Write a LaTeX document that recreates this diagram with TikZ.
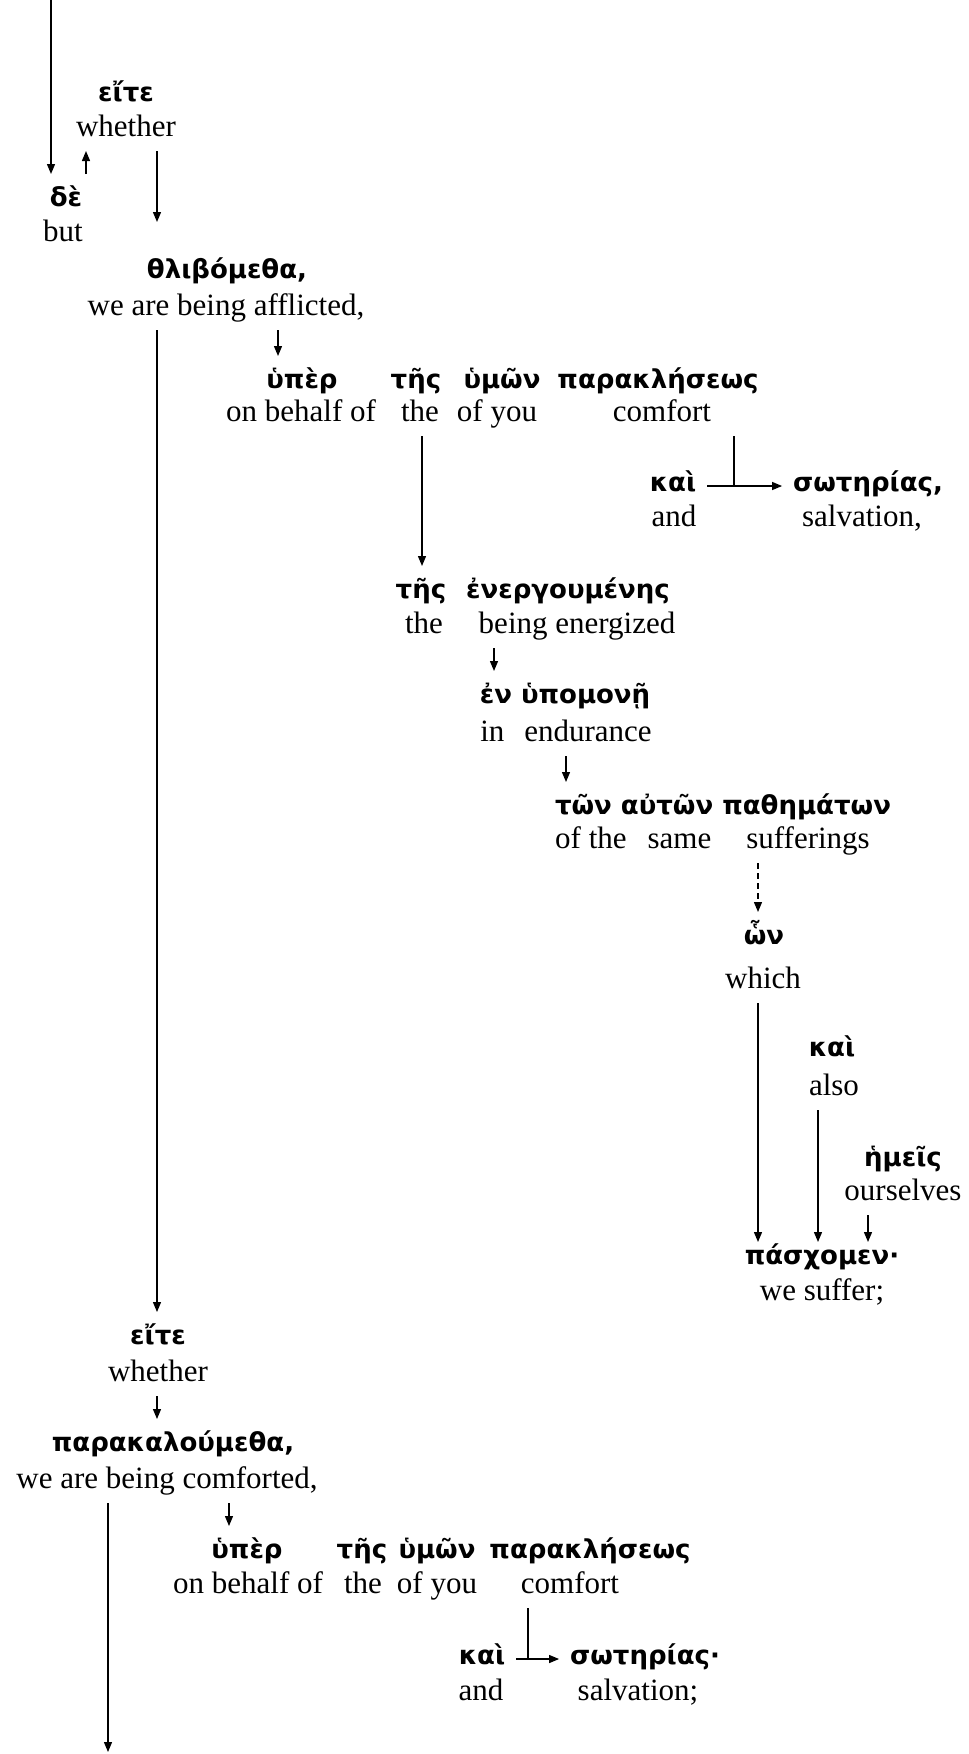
\documentclass[tikz,border=0pt]{standalone}
\usepackage{fontspec}
\setmainfont{Liberation Serif}
\newfontfamily\gkfont{DejaVu Sans}[Script=Greek]
\usetikzlibrary{arrows.meta}

\begin{document}
\begin{tikzpicture}[x=1pt,y=-1pt,
  gk/.style={font=\gkfont\bfseries\fontsize{26}{30}\selectfont,anchor=base,inner sep=0pt,
    text height=16pt,text depth=6pt,outer xsep=11pt,outer ysep=16pt},
  en/.style={font=\fontsize{31}{36}\selectfont,anchor=base,inner sep=0pt,
    text height=21pt,text depth=7pt,outer ysep=8pt},
  ln/.style={line width=1.3pt},
  arr/.style={ln,-{Triangle[length=10pt,width=8pt]}}]
  \useasboundingbox (0,0) rectangle (969,1754);
  % first clause
  \node[gk] (eiteA) at (126,101) {εἴτε};
  \node[en] (whetherA) at (126,136) {whether};
  \node[gk] (de) at (66,206) {δὲ};
  \node[en] (but) at (63,241) {but};
  \node[gk] (thlib) at (227,278) {θλιβόμεθα,};
  \node[en] (afflicted) at (226,315) {we are being afflicted,};
  \node[gk] (hyperA) at (302,388) {ὑπὲρ};
  \node[en] (behalfA) at (301,421) {on behalf of};
  \node[gk] (tesA) at (416,388) {τῆς};
  \node[en] (theA) at (420,421) {the};
  \node[gk] (hymonA) at (502,388) {ὑμῶν};
  \node[en] (ofyouA) at (497,421) {of you};
  \node[gk] (paraklA) at (658,388) {παρακλήσεως};
  \node[en] (comfortA) at (662,421) {comfort};
  \node[gk] (kaiA) at (673,491) {καὶ};
  \node[en] (andA) at (674,526) {and};
  \node[gk] (soteriasA) at (868,491) {σωτηρίας,};
  \node[en] (salvationA) at (862,526) {salvation,};
  \node[gk] (tesB) at (421,598) {τῆς};
  \node[en] (theB) at (424,633) {the};
  \node[gk] (energ) at (568,598) {ἐνεργουμένης};
  \node[en] (energized) at (577,633) {being energized};
  \node[gk] (hypomone) at (565,703) {ἐν ὑπομονῇ};
  \node[en] (endurance) at (566,741) {in\hspace{20pt}endurance};
  \node[gk,anchor=base west] (pathem) at (544,814) {τῶν αὐτῶν παθημάτων};
  \node[en,anchor=base west] (sufferings) at (555,848) {of the\hspace{21pt}same\hspace{35pt}sufferings};
  \node[gk] (hon) at (764,944) {ὧν};
  \node[en] (which) at (763,988) {which};
  \node[gk] (kaiC) at (832,1056) {καὶ};
  \node[en] (also) at (834,1095) {also};
  \node[gk] (hemeis) at (903,1166) {ἡμεῖς};
  \node[en] (ourselves) at (903,1200) {ourselves};
  \node[gk] (pasch) at (822,1264) {πάσχομεν·};
  \node[en] (suffer) at (822,1300) {we suffer;};
  % second clause
  \node[gk] (eiteB) at (158,1344) {εἴτε};
  \node[en] (whetherB) at (158,1381) {whether};
  \node[gk] (parakal) at (173,1451) {παρακαλούμεθα,};
  \node[en] (comforted) at (167,1488) {we are being comforted,};
  \node[gk] (hyperB) at (247,1558) {ὑπὲρ};
  \node[en] (behalfB) at (248,1593) {on behalf of};
  \node[gk] (tesC) at (362,1558) {τῆς};
  \node[en] (theC) at (363,1593) {the};
  \node[gk] (hymonB) at (437,1558) {ὑμῶν};
  \node[en] (ofyouB) at (437,1593) {of you};
  \node[gk] (paraklB) at (590,1558) {παρακλήσεως};
  \node[en] (comfortB) at (570,1593) {comfort};
  \node[gk] (kaiB) at (482,1664) {καὶ};
  \node[en] (andB) at (481,1700) {and};
  \node[gk] (soteriasB) at (645,1664) {σωτηρίας·};
  \node[en] (salvationB) at (638,1700) {salvation;};
  % connectors
  \foreach \n/\x in {colup/86,colmain/157,colhyA/278,colthe/422,colen/494,colton/566,
    colhon/758,colkai/818,colhem/868,colhyB/229}
    \coordinate (\n) at (\x,0);
  \coordinate (topin) at (51,0);
  \coordinate (deout) at (157,222);
  \coordinate (botout) at (108,1752);
  \coordinate (joinA) at (734,486);
  \coordinate (joinB) at (528,1659);
  \draw[arr] (topin) -- (de.north -| topin);
  \draw[arr] (de.north -| colup) -- (whetherA.south -| colup);
  \draw[arr] (whetherA.south -| deout) -- (deout);
  \draw[arr] (afflicted.south -| colmain) -- (eiteB.north -| colmain);
  \draw[arr] (afflicted.south -| colhyA) -- (hyperA.north -| colhyA);
  \draw[ln] (comfortA.south -| joinA) -- (joinA);
  \draw[arr] (kaiA.east) -- (soteriasA.west);
  \draw[arr] (theA.south -| colthe) -- (tesB.north -| colthe);
  \draw[arr] (energized.south -| colen) -- (hypomone.north -| colen);
  \draw[arr] (endurance.south -| colton) -- (pathem.north -| colton);
  \draw[arr,dash pattern=on 6pt off 4pt] (sufferings.south -| colhon) -- (hon.north -| colhon);
  \draw[arr,shorten >=-10pt] (which.south -| colhon) -- (pasch.north -| colhon);
  \draw[arr,shorten >=-10pt] (also.south -| colkai) -- (pasch.north -| colkai);
  \draw[arr,shorten >=-10pt] (ourselves.south -| colhem) -- (pasch.north -| colhem);
  \draw[arr] (whetherB.south -| colmain) -- (parakal.north -| colmain);
  \draw[arr] (comforted.south -| botout) -- (botout);
  \draw[arr] (comforted.south -| colhyB) -- (hyperB.north -| colhyB);
  \draw[ln] (comfortB.south -| joinB) -- (joinB);
  \draw[arr] (kaiB.east) -- (soteriasB.west);
\end{tikzpicture}
\end{document}
